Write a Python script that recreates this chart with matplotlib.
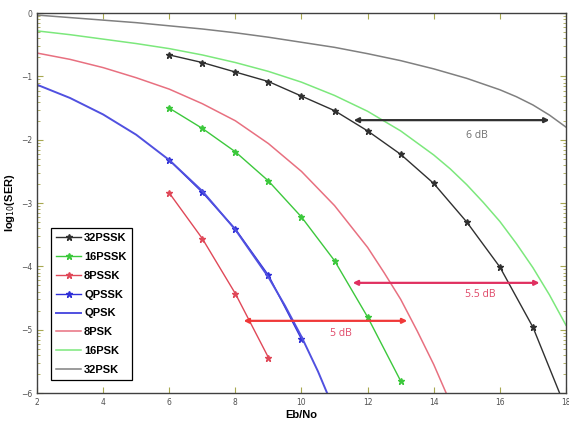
import numpy as np
import matplotlib
matplotlib.use("Agg")
import matplotlib.pyplot as plt
from matplotlib.ticker import FixedLocator

# theoretical curves (log10 SER)
eb_32psk = [2, 3, 4, 5, 6, 7, 8, 9, 10, 11, 12, 13, 14, 15, 16, 16.5, 17, 17.5, 18]
ser_32psk = [-0.03, -0.07, -0.11, -0.15, -0.20, -0.25, -0.31, -0.38, -0.46, -0.54,
             -0.64, -0.75, -0.88, -1.03, -1.21, -1.32, -1.45, -1.61, -1.80]
eb_16psk = [2, 3, 4, 5, 6, 7, 8, 9, 10, 11, 12, 13, 14, 14.5, 15, 15.5, 16, 16.5,
            17, 17.5, 18]
ser_16psk = [-0.28, -0.34, -0.41, -0.48, -0.56, -0.66, -0.78, -0.92, -1.09, -1.30,
             -1.55, -1.86, -2.24, -2.46, -2.71, -2.99, -3.29, -3.64, -4.02, -4.45, -4.93]
eb_8psk = [2, 3, 4, 5, 6, 7, 8, 9, 10, 11, 11.5, 12, 12.5, 13, 13.5, 14, 14.5]
ser_8psk = [-0.63, -0.73, -0.86, -1.02, -1.20, -1.43, -1.70, -2.06, -2.50, -3.04,
            -3.37, -3.70, -4.10, -4.52, -5.02, -5.55, -6.15]
eb_qpsk = [2, 3, 4, 5, 6, 7, 8, 9, 9.5, 10, 10.5, 11]
ser_qpsk = [-1.13, -1.34, -1.60, -1.92, -2.32, -2.81, -3.42, -4.17, -4.62, -5.11,
            -5.66, -6.28]

# simulated curves with markers
eb_32pssk = [6, 7, 8, 9, 10, 11, 12, 13, 14, 15, 16, 17, 18]
ser_32pssk = [-0.66, -0.78, -0.93, -1.08, -1.31, -1.54, -1.86, -2.23, -2.69, -3.30,
              -4.01, -4.96, -6.25]
eb_16pssk = [6, 7, 8, 9, 10, 11, 12, 13]
ser_16pssk = [-1.50, -1.82, -2.19, -2.65, -3.22, -3.91, -4.80, -5.81]
eb_8pssk = [6, 7, 8, 9]
ser_8pssk = [-2.84, -3.56, -4.43, -5.44]
eb_qpssk = [6, 7, 8, 9, 10]
ser_qpssk = [-2.32, -2.83, -3.41, -4.14, -5.15]

# gain arrows: (x start, x end, y, label, label x, label y)
gains = [(11.58, 17.5, -1.69, "6 dB", 15.3, -1.93),
         (11.55, 17.2, -4.26, "5.5 dB", 15.4, -4.44),
         (8.25, 13.2, -4.86, "5 dB", 11.2, -5.06)]

fig = plt.figure(figsize=(5.69, 4.23), dpi=100)
ax = fig.add_axes([0.065, 0.0709, 0.9297, 0.898])

mk = dict(marker="*", markersize=5, lw=1.0)
ax.plot(eb_32pssk, ser_32pssk, color="#303030", label="32PSSK", **mk)
ax.plot(eb_16pssk, ser_16pssk, color="#3cc83c", label="16PSSK", **mk)
ax.plot(eb_8pssk, ser_8pssk, color="#e04858", label="8PSSK", **mk)
ax.plot(eb_qpssk, ser_qpssk, color="#3030d8", label="QPSSK", **mk)
ax.plot(eb_qpsk, ser_qpsk, color="#5050e0", lw=1.4, label="QPSK")
ax.plot(eb_8psk, ser_8psk, color="#e87080", lw=1.1, label="8PSK")
ax.plot(eb_16psk, ser_16psk, color="#7ce87c", lw=1.1, label="16PSK")
ax.plot(eb_32psk, ser_32psk, color="#808080", lw=1.1, label="32PSK")

cols = [("#303030", "#707070"), ("#e03060", "#e04868"), ("#f03838", "#e04868")]
for (x0, x1, y, txt, tx, ty), (ac, tc) in zip(gains, cols):
    ax.annotate("", xy=(x1, y), xytext=(x0, y),
                arrowprops=dict(arrowstyle="<|-|>", color=ac, lw=1.6,
                                mutation_scale=7, shrinkA=0, shrinkB=0))
    ax.text(tx, ty, txt, color=tc, fontsize=7.5, ha="center", va="center",
            family="Open Sans")

ax.set_xlim(2, 18)
ax.set_ylim(-6, 0)
ax.set_xticks(range(2, 19, 2))
ax.set_yticks(range(-6, 1))
minor = [d + np.log10(k) for d in range(-6, 0) for k in range(2, 10)]
ax.yaxis.set_minor_locator(FixedLocator(minor))
ax.tick_params(which="both", direction="in", top=True, right=True,
               labelsize=5.5, labelcolor="#505050", color="#a8a850")
ax.tick_params(which="major", length=4)
ax.tick_params(which="minor", length=2)
for s in ax.spines.values():
    s.set_color("#404040")
    s.set_linewidth(1.0)

ax.set_xlabel("Eb/No", fontsize=8, fontweight="bold", family="Liberation Sans", labelpad=2)
ax.set_ylabel("log$_{10}$(SER)", fontsize=8, fontweight="bold", family="Liberation Sans",
              labelpad=3)

leg = ax.legend(loc="lower left", bbox_to_anchor=(0.026, 0.034), borderaxespad=0,
                fancybox=False, edgecolor="black", framealpha=1, handlelength=2.3,
                handletextpad=0.25, labelspacing=0.8, borderpad=0.45,
                prop=dict(family="Liberation Sans", weight="bold", size=8))
leg.get_frame().set_linewidth(0.9)

fig.savefig("out.png", dpi=100)
